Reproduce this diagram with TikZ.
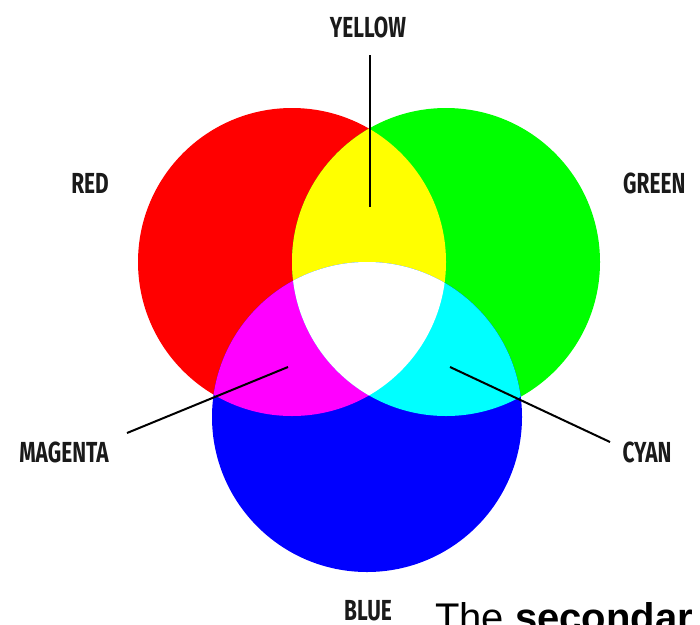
\documentclass[tikz,border=0pt]{standalone}
\usepackage{fontspec}
\setmainfont{Liberation Sans}
\newfontfamily\lblfont[FakeStretch=0.72]{Fira Sans}
\usetikzlibrary{positioning}
\definecolor{mixred}{HTML}{FF0000}
\definecolor{mixgreen}{HTML}{00FF00}
\definecolor{mixblue}{HTML}{0000FF}
\definecolor{mixyellow}{HTML}{FFFF00}
\definecolor{mixmagenta}{HTML}{FF00FF}
\definecolor{mixcyan}{HTML}{00FFFF}
\definecolor{labelgrey}{HTML}{1A1A1A}

\begin{document}
\begin{tikzpicture}[
  x=1pt, y=-1pt,
  colorlabel/.style={
    font=\lblfont\bfseries\fontsize{29}{29}\selectfont,
    text=labelgrey,
    inner sep=0pt
  },
  pointer/.style={draw=black, line width=2pt},
  notetext/.style={font=\fontsize{40}{40}\selectfont, anchor=base west, inner sep=0pt}
]
  \useasboundingbox (0,0) rectangle (700,624);
  \clip (0,0) rectangle (700,624);

  % primary discs
  \fill[mixred] (292,262) circle[radius=154];
  \fill[mixgreen] (446,262) circle[radius=154];
  \fill[mixblue] (367,417) circle[radius=155];

  % two-way overlaps
  \begin{scope}
    \clip (292,262) circle[radius=154];
    \fill[mixyellow] (446,262) circle[radius=154];
    \fill[mixmagenta] (367,417) circle[radius=155];
  \end{scope}
  \begin{scope}
    \clip (446,262) circle[radius=154];
    \fill[mixcyan] (367,417) circle[radius=155];
  \end{scope}

  % centre
  \begin{scope}
    \clip (292,262) circle[radius=154];
    \clip (446,262) circle[radius=154];
    \fill[white] (367,417) circle[radius=155];
  \end{scope}

  \node[colorlabel] (yellow) at (368,27) {YELLOW};
  \node[colorlabel] (red) at (90,183) {RED};
  \node[colorlabel, anchor=west] (green) at (623,183) {GREEN};
  \node[colorlabel] (magenta) at (64,452) {MAGENTA};
  \node[colorlabel] (cyan) at (647,452) {CYAN};
  \node[colorlabel] (blue) at (368,611) {BLUE};

  \node[notetext] (note) at (435,631) {The \textbf{secondar}};

  \coordinate (yellowtip) at (370,207);
  \coordinate (yellowfoot) at (370,55);
  \coordinate (magentatip) at (288,367);
  \coordinate (magentafoot) at (127,433);
  \coordinate (cyantip) at (450,367);
  \coordinate (cyanfoot) at (610,442);

  \draw[pointer] (yellowfoot) -- (yellowtip);
  \draw[pointer] (magentafoot) -- (magentatip);
  \draw[pointer] (cyanfoot) -- (cyantip);
\end{tikzpicture}
\end{document}
